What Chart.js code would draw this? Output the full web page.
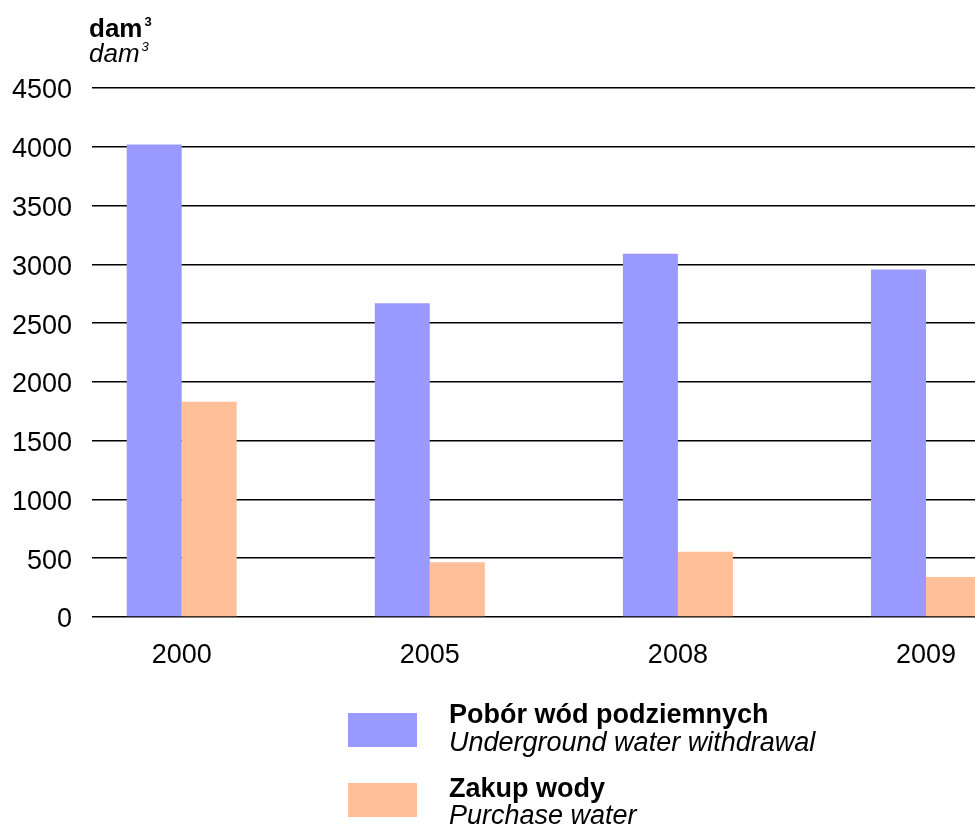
<!DOCTYPE html>
<html>
<head>
<meta charset="utf-8">
<script src="https://cdn.jsdelivr.net/npm/chart.js@4/dist/chart.umd.min.js"></script>
<style>
  body { margin: 0; background: #fff; font-family: "Liberation Sans", Arial, sans-serif; }
  #wrap { position: relative; width: 975px; height: 827px; overflow: hidden; }
  #chart { position: absolute; left: 0; top: 0; }
  .unit { position: absolute; left: 89px; font-size: 26px; line-height: 26px; color: #000; }
  .unit sup { font-size: 13px; vertical-align: 0; position: relative; top: -11px; margin-left: 2px; }
  .sw { position: absolute; left: 348px; width: 69px; height: 34px; }
  .lg { position: absolute; left: 449px; font-size: 27px; line-height: 27px; color: #000; white-space: nowrap; }
  .b { font-weight: bold; }
  .i { font-style: italic; }
</style>
</head>
<body>
<div id="wrap">
  <canvas id="chart" width="975" height="827"></canvas>
  <div class="unit b" style="top:15px">dam<sup>3</sup></div>
  <div class="unit i" style="top:40px">dam<sup>3</sup></div>

  <div class="sw" style="top:713px;background:#9999ff"></div>
  <div class="lg b" style="top:701px">Pobór wód podziemnych</div>
  <div class="lg i" style="top:729px">Underground water withdrawal</div>

  <div class="sw" style="top:783px;background:#ffbf99"></div>
  <div class="lg b" style="top:775px">Zakup wody</div>
  <div class="lg i" style="top:802px">Purchase water</div>
</div>
<script>
// dane
const years = ['2000', '2005', '2008', '2009'];
const underground = [4020, 2670, 3090, 2955];
const purchase = [1830, 465, 555, 340];
const yTicks = [0, 500, 1000, 1500, 2000, 2500, 3000, 3500, 4000, 4500];

const toPoints = arr => arr.map((v, i) => ({ x: i, y: v }));

const config = {
  type: 'bar',
  data: {
    datasets: [
      { label: 'Pobór wód podziemnych', data: toPoints(underground), backgroundColor: '#9999ff' },
      { label: 'Zakup wody', data: toPoints(purchase), backgroundColor: '#ffbf99' }
    ]
  },
  options: {
    responsive: false,
    animation: false,
    devicePixelRatio: 1,
    layout: { padding: { top: 88, left: 0, right: -3, bottom: 0 } },
    datasets: { bar: { categoryPercentage: 0.4434, barPercentage: 1.0 } },
    plugins: { legend: { display: false }, tooltip: { enabled: false } },
    scales: {
      x: {
        type: 'linear',
        min: -0.3615,
        max: 3.1975,
        offset: false,
        bounds: 'data',
        grid: { display: false },
        border: { display: false },
        afterBuildTicks: axis => { axis.ticks = years.map((_, i) => ({ value: i })); },
        afterFit: axis => { axis.height = 210; },
        ticks: {
          callback: v => years[v],
          autoSkip: false,
          maxRotation: 0,
          padding: 14,
          color: '#000',
          font: { family: 'Liberation Sans', size: 27 }
        }
      },
      y: {
        min: 0,
        max: 4500,
        afterBuildTicks: axis => { axis.ticks = yTicks.map(v => ({ value: v })); },
        afterFit: axis => { axis.width = 92; },
        grid: { color: '#000', lineWidth: 1.5, drawTicks: false },
        border: { display: false },
        ticks: {
          callback: v => String(v),
          padding: 20,
          labelOffset: 3,
          color: '#000',
          font: { family: 'Liberation Sans', size: 27 }
        }
      }
    }
  }
};

new Chart(document.getElementById('chart'), config);
</script>
</body>
</html>
